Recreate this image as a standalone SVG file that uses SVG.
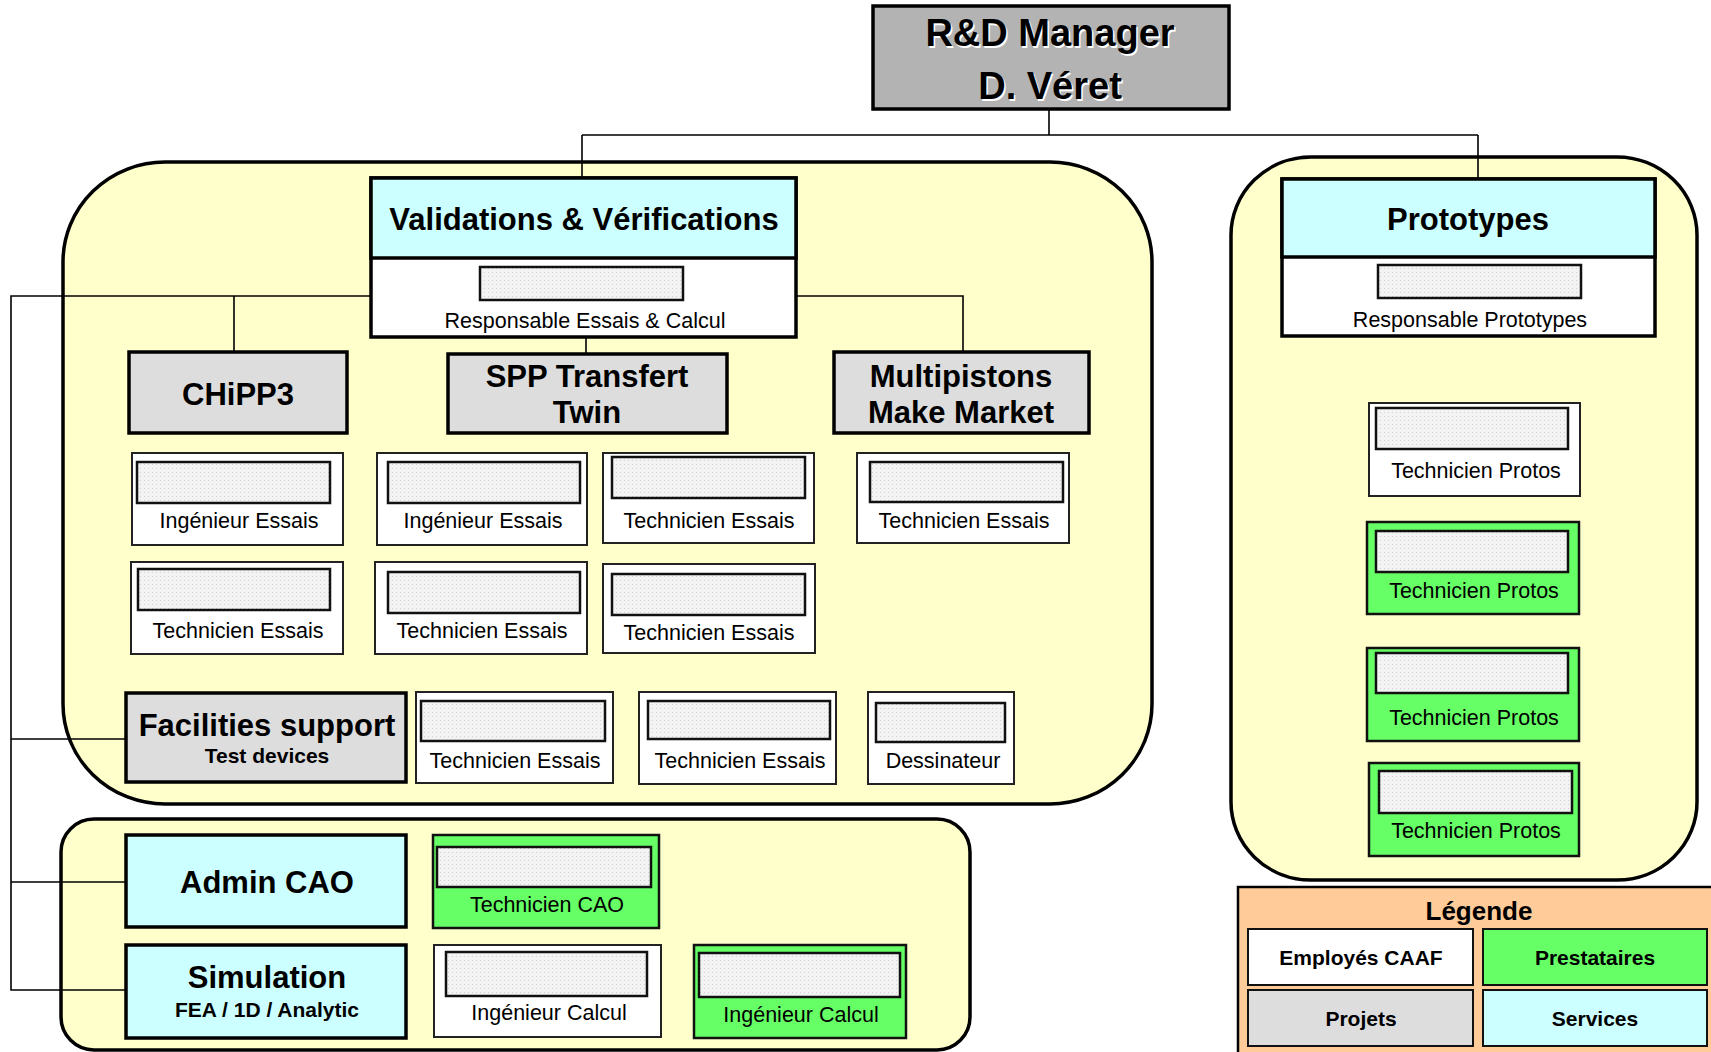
<svg xmlns="http://www.w3.org/2000/svg" width="1711" height="1052" viewBox="0 0 1711 1052">
<defs>
<pattern id="dots" width="4" height="4" patternUnits="userSpaceOnUse"><rect width="4" height="4" fill="#f3f3f3"/><rect width="1" height="1" fill="#d2d2d2"/></pattern>
<style>
.cont{fill:#ffffcc;stroke:#000;stroke-width:3.5}
.svc{fill:#ccffff;stroke:#000;stroke-width:3.5}
.prj{fill:#dddddd;stroke:#000;stroke-width:3.5}
.wh{fill:#fff;stroke:#000;stroke-width:3.5}
.emp{fill:#fff;stroke:#222;stroke-width:2}
.pre{fill:#66ff66;stroke:#111;stroke-width:2.5}
.ph{fill:url(#dots);stroke:#111;stroke-width:2.5}
.con{fill:none;stroke:#000;stroke-width:1.6}
.t{font-family:"Liberation Sans",Arial,sans-serif;text-anchor:middle;fill:#000}
.big{font-size:31px;font-weight:bold}
.sub{font-size:21px;font-weight:bold}
.lbl{font-size:21.5px}
.leg{font-size:21px;font-weight:bold}
.sh{fill:#fff}
</style>
</defs>
<rect width="1711" height="1052" fill="#fff"/>

<g id="containers">
<rect class="cont" x="63" y="162" width="1089" height="642" rx="102" ry="100"/>
<rect class="cont" x="1231" y="157" width="466" height="723" rx="80" ry="78"/>
<rect class="cont" x="61" y="819" width="909" height="231" rx="33" ry="33"/>
</g>

<g id="connectors">
<path class="con" d="M1049 110 V135 M582 135 H1478 M582 135 V178 M1478 135 V179"/>
<path class="con" d="M371 296 H11 V990 H126 M11 739 H126 M11 882 H126"/>
<path class="con" d="M234 296 V352 M796 296 H963 V352 M586 337 V354"/>
</g>

<g id="rd-manager">
<rect x="873" y="6" width="356" height="103" fill="#b3b3b3" stroke="#000" stroke-width="3.5"/>
<text class="t sh" x="1051.5" y="47.5" font-size="38" font-weight="bold">R&amp;D Manager</text>
<text class="t" x="1050" y="46" font-size="38" font-weight="bold">R&amp;D Manager</text>
<text class="t sh" x="1051.5" y="100.5" font-size="38" font-weight="bold">D. Véret</text>
<text class="t" x="1050" y="99" font-size="38" font-weight="bold">D. Véret</text>
</g>

<g id="validations">
<rect class="wh" x="371" y="178" width="425" height="159"/>
<rect class="svc" x="371" y="178" width="425" height="80"/>
<rect class="ph" x="480" y="267" width="203" height="33"/>
<text class="t big" x="584" y="230">Validations &amp; Vérifications</text>
<text class="t lbl" x="585" y="328">Responsable Essais &amp; Calcul</text>
</g>

<g id="prototypes">
<rect class="wh" x="1282" y="179" width="373" height="157"/>
<rect class="svc" x="1282" y="179" width="373" height="78"/>
<rect class="ph" x="1378" y="265" width="203" height="33"/>
<text class="t big" x="1468" y="230">Prototypes</text>
<text class="t lbl" x="1470" y="327">Responsable Prototypes</text>
</g>

<g id="chipp3">
<rect class="prj" x="129" y="352" width="218" height="81"/>
<text class="t big" x="238" y="405" font-size="30">CHiPP3</text>
</g>
<g id="spp">
<rect class="prj" x="448" y="354" width="279" height="79"/>
<text class="t big" x="587" y="387">SPP Transfert</text>
<text class="t big" x="587" y="423">Twin</text>
</g>
<g id="multipistons">
<rect class="prj" x="834" y="352" width="255" height="81"/>
<text class="t big" x="961" y="387">Multipistons</text>
<text class="t big" x="961" y="423">Make Market</text>
</g>

<g id="chipp3-ing">
<rect class="emp" x="132" y="453" width="211" height="92"/>
<rect class="ph" x="137" y="462" width="193" height="41"/>
<text class="t lbl" x="239" y="528">Ingénieur Essais</text>
</g>
<g id="chipp3-tech">
<rect class="emp" x="131" y="562" width="212" height="92"/>
<rect class="ph" x="138" y="569" width="192" height="41"/>
<text class="t lbl" x="238" y="638">Technicien Essais</text>
</g>
<g id="spp-ing">
<rect class="emp" x="377" y="453" width="210" height="92"/>
<rect class="ph" x="388" y="462" width="192" height="41"/>
<text class="t lbl" x="483" y="528">Ingénieur Essais</text>
</g>
<g id="spp-tech">
<rect class="emp" x="375" y="562" width="212" height="92"/>
<rect class="ph" x="388" y="572" width="192" height="41"/>
<text class="t lbl" x="482" y="638">Technicien Essais</text>
</g>
<g id="spp-tech2">
<rect class="emp" x="603" y="453" width="211" height="90"/>
<rect class="ph" x="612" y="457" width="193" height="41"/>
<text class="t lbl" x="709" y="528">Technicien Essais</text>
</g>
<g id="spp-tech3">
<rect class="emp" x="603" y="564" width="212" height="89"/>
<rect class="ph" x="612" y="574" width="193" height="41"/>
<text class="t lbl" x="709" y="640">Technicien Essais</text>
</g>
<g id="multi-tech">
<rect class="emp" x="857" y="453" width="212" height="90"/>
<rect class="ph" x="870" y="462" width="193" height="40"/>
<text class="t lbl" x="964" y="528">Technicien Essais</text>
</g>

<g id="facilities">
<rect class="prj" x="126" y="693" width="280" height="89"/>
<text class="t big" x="267" y="736">Facilities support</text>
<text class="t sub" x="267" y="763">Test devices</text>
</g>
<g id="fac-tech1">
<rect class="emp" x="416" y="692" width="197" height="91"/>
<rect class="ph" x="421" y="701" width="184" height="40"/>
<text class="t lbl" x="515" y="768">Technicien Essais</text>
</g>
<g id="fac-tech2">
<rect class="emp" x="639" y="692" width="197" height="92"/>
<rect class="ph" x="648" y="701" width="182" height="38"/>
<text class="t lbl" x="740" y="768">Technicien Essais</text>
</g>
<g id="fac-dess">
<rect class="emp" x="868" y="692" width="146" height="92"/>
<rect class="ph" x="876" y="703" width="129" height="39"/>
<text class="t lbl" x="943" y="768">Dessinateur</text>
</g>

<g id="proto-tech1">
<rect class="emp" x="1369" y="403" width="211" height="93"/>
<rect class="ph" x="1376" y="408" width="192" height="41"/>
<text class="t lbl" x="1476" y="478">Technicien Protos</text>
</g>
<g id="proto-tech2">
<rect class="pre" x="1367" y="522" width="212" height="92"/>
<rect class="ph" x="1376" y="531" width="192" height="41"/>
<text class="t lbl" x="1474" y="598">Technicien Protos</text>
</g>
<g id="proto-tech3">
<rect class="pre" x="1367" y="648" width="212" height="93"/>
<rect class="ph" x="1376" y="653" width="192" height="40"/>
<text class="t lbl" x="1474" y="725">Technicien Protos</text>
</g>
<g id="proto-tech4">
<rect class="pre" x="1369" y="763" width="210" height="93"/>
<rect class="ph" x="1379" y="771" width="193" height="42"/>
<text class="t lbl" x="1476" y="838">Technicien Protos</text>
</g>

<g id="admin-cao">
<rect class="svc" x="126" y="835" width="280" height="92"/>
<text class="t big" x="267" y="893">Admin CAO</text>
</g>
<g id="tech-cao">
<rect class="pre" x="433" y="835" width="226" height="93"/>
<rect class="ph" x="437" y="847" width="214" height="40"/>
<text class="t lbl" x="547" y="912">Technicien CAO</text>
</g>
<g id="simulation">
<rect class="svc" x="126" y="945" width="280" height="93"/>
<text class="t big" x="267" y="988">Simulation</text>
<text class="t sub" x="267" y="1017" font-size="22.5">FEA / 1D / Analytic</text>
</g>
<g id="ing-calcul1">
<rect class="emp" x="434" y="945" width="227" height="92"/>
<rect class="ph" x="446" y="952" width="201" height="44"/>
<text class="t lbl" x="549" y="1020">Ingénieur Calcul</text>
</g>
<g id="ing-calcul2">
<rect class="pre" x="694" y="945" width="212" height="93"/>
<rect class="ph" x="699" y="953" width="201" height="44"/>
<text class="t lbl" x="801" y="1022">Ingénieur Calcul</text>
</g>

<g id="legend">
<rect x="1238" y="887" width="490" height="180" fill="#ffcc99" stroke="#000" stroke-width="2.5"/>
<text class="t" x="1479" y="920" font-size="26" font-weight="bold">Légende</text>
<rect x="1248" y="929" width="225" height="56" fill="#fff" stroke="#111" stroke-width="2"/>
<text class="t leg" x="1361" y="965">Employés CAAF</text>
<rect x="1483" y="929" width="224" height="56" fill="#66ff66" stroke="#111" stroke-width="2"/>
<text class="t leg" x="1595" y="965">Prestataires</text>
<rect x="1248" y="990" width="225" height="56" fill="#dddddd" stroke="#111" stroke-width="2"/>
<text class="t leg" x="1361" y="1026">Projets</text>
<rect x="1483" y="990" width="224" height="56" fill="#ccffff" stroke="#111" stroke-width="2"/>
<text class="t leg" x="1595" y="1026">Services</text>
</g>
</svg>
